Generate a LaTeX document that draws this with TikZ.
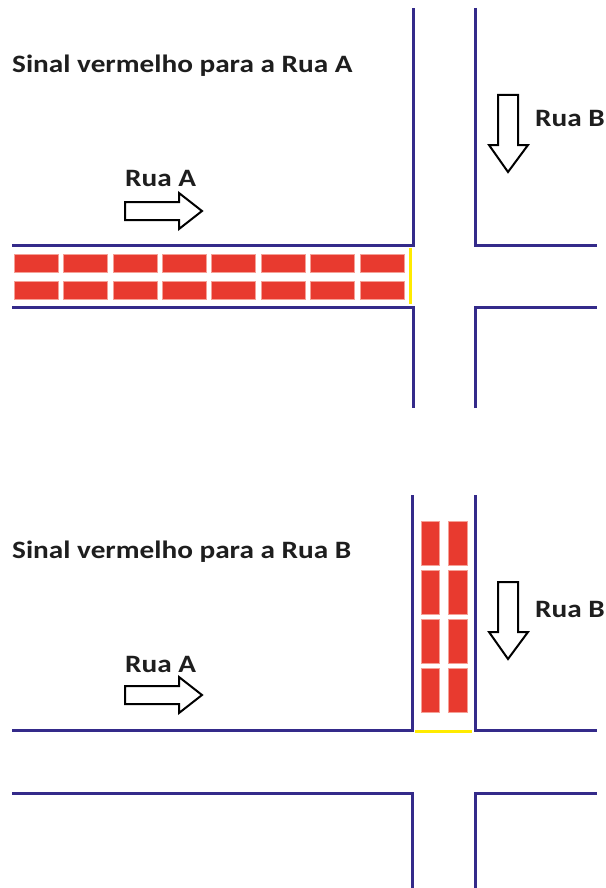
\documentclass[tikz,border=0pt]{standalone}
\usepackage{fontspec}
\setmainfont{Carlito}[FakeStretch=1.17]
\definecolor{roadblue}{RGB}{52,42,138}
\definecolor{carred}{RGB}{232,58,47}
\definecolor{carrim}{RGB}{245,160,150}
\definecolor{signyellow}{RGB}{255,235,0}
\definecolor{txt}{RGB}{30,30,30}
\begin{document}
\begin{tikzpicture}[x=1pt,y=-1pt,
  road/.style={draw=roadblue,line width=3pt},
  stopline/.style={draw=signyellow,line width=3pt},
  car/.style={fill=carred,draw=carrim,line width=0.6pt},
  arrowshape/.style={draw=black,line width=2pt,fill=white,line join=miter},
  label/.style={font=\bfseries\fontsize{25}{29}\selectfont,text=txt,anchor=base west,inner sep=0pt},
  ]
\useasboundingbox (0,0) rectangle (605,888);
% ---------------- top panel
\node[label] (titleA) at (12,73) {Sinal vermelho para a Rua A};
% roads
\draw[road] (12,245) -- (413,245) -- (413,8);
\draw[road] (475,8) -- (475,245) -- (597,245);
\draw[road] (12,307) -- (413,307) -- (413,408);
\draw[road] (475,408) -- (475,307) -- (597,307);
\draw[stopline] (410.5,248) -- (410.5,304);
% cars
\foreach \k in {0,...,7}{
  \fill[car] ({14+49.4*\k},254) rectangle ++(44,18);
  \fill[car] ({14+49.4*\k},281) rectangle ++(44,18);
}
% arrows
\node[label] (ruaA1) at (125,186) {Rua A};
\draw[arrowshape] (125,202) -- (179,202) -- (179,193) -- (202,211) -- (179,229) -- (179,220) -- (125,220) -- cycle;
\node[label] (ruaB1) at (535,127) {Rua B};
\draw[arrowshape] (498,95) -- (518,95) -- (518,145) -- (528,145) -- (508,172) -- (489,145) -- (498,145) -- cycle;
% ---------------- bottom panel
\node[label] (titleB) at (12,558) {Sinal vermelho para a Rua B};
\draw[road] (12,730) -- (412,730) -- (412,495);
\draw[road] (475,495) -- (475,730) -- (597,730);
\draw[stopline] (415,731) -- (472,731);
\draw[road] (12,793) -- (412,793) -- (412,888);
\draw[road] (475,888) -- (475,793) -- (597,793);
\foreach \k in {0,...,3}{
  \fill[car] (421,{521+49*\k}) rectangle ++(18,44);
  \fill[car] (448,{521+49*\k}) rectangle ++(19,44);
}
\node[label] (ruaA2) at (125,672) {Rua A};
\draw[arrowshape] (125,686) -- (179,686) -- (179,677) -- (202,695) -- (179,713) -- (179,704) -- (125,704) -- cycle;
\node[label] (ruaB2) at (535,617) {Rua B};
\draw[arrowshape] (498,582) -- (518,582) -- (518,632) -- (528,632) -- (508,659) -- (489,632) -- (498,632) -- cycle;
\end{tikzpicture}
\end{document}
